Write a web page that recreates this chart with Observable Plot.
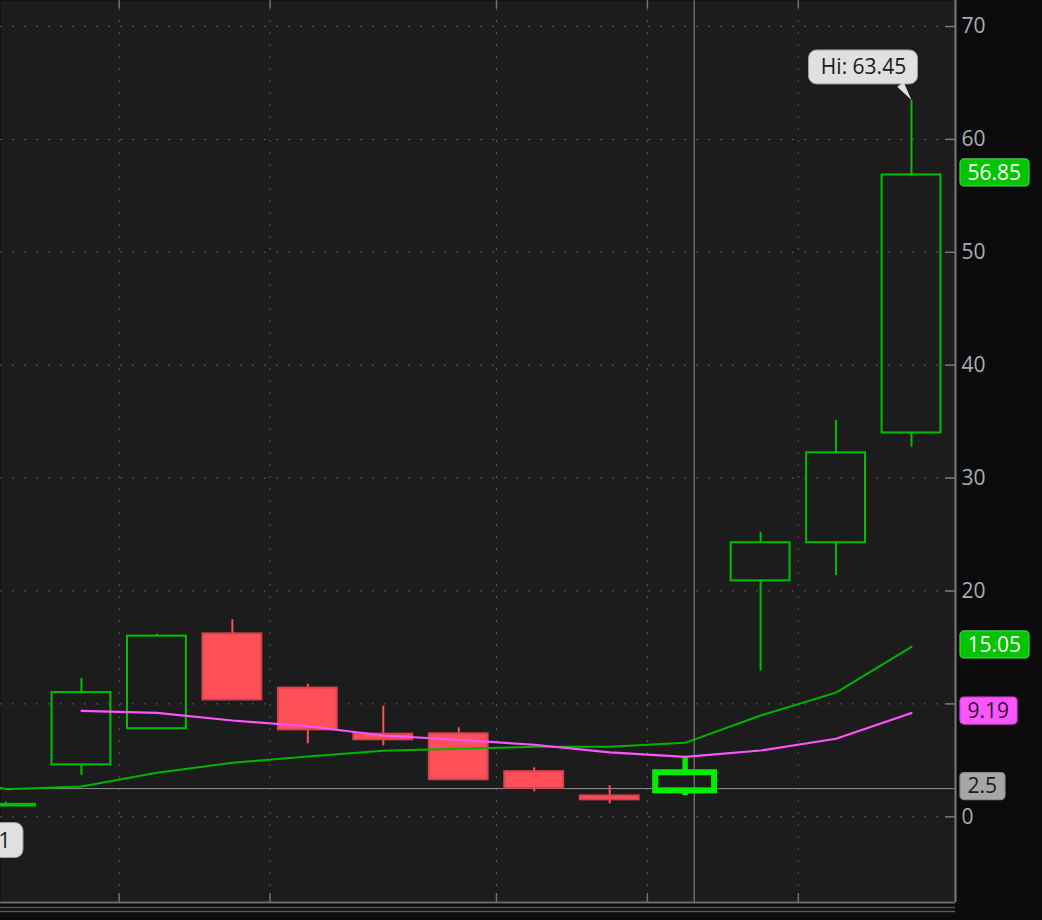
<!DOCTYPE html>
<html>
<head>
<meta charset="utf-8">
<script src="https://cdn.jsdelivr.net/npm/d3@7"></script>
<script src="https://cdn.jsdelivr.net/npm/@observablehq/plot@0.6"></script>
<style>
  html, body { margin: 0; padding: 0; background: #0b0b0b; overflow: hidden; }
  #chart svg { display: block; }
</style>
</head>
<body>
<div id="chart"></div>
<script>
// ---- data ----
const candleIndex = [0, 1, 2, 3, 4, 5, 6, 7, 8, 9, 10, 11, 12];
const open  = [0.95, 4.6, 7.8, 16.2, 11.4, 7.32, 7.35, 4.0, 1.85, 2.3, 20.9, 24.27, 34.0];
const high  = [1.29, 12.25, 16.17, 17.45, 11.74, 9.8, 7.88, 4.34, 2.75, 5.2, 25.18, 35.1, 63.45];
const low   = [0.95, 3.66, 7.8, 10.35, 6.47, 6.29, 3.28, 2.21, 1.15, 1.86, 12.9, 21.37, 32.74];
const close = [1.1, 11.0, 16.0, 10.35, 7.7, 6.82, 3.28, 2.53, 1.5, 3.9, 24.27, 32.24, 56.85];
const highlightIndex = 9;

const maGreenIndex = [-1, 0, 1, 2, 3, 4, 5, 6, 7, 8, 9, 10, 11, 12];
const maGreen      = [3.9, 2.45, 2.68, 3.9, 4.78, 5.34, 5.85, 6.02, 6.2, 6.2, 6.55, 8.97, 11.0, 15.05];
const maMagentaIndex = [1, 2, 3, 4, 5, 6, 7, 8, 9, 10, 11, 12];
const maMagenta      = [9.39, 9.21, 8.53, 8.02, 7.2, 6.82, 6.38, 5.7, 5.31, 5.87, 6.91, 9.19];

const yTicks = [0, 10, 20, 30, 40, 50, 60, 70];
const yTickLabels = [0, 20, 30, 40, 50, 60, 70]; // "10" is hidden behind the 9.19 badge
const gridX = [1.5, 3.5, 6.5, 8.5, 10.5];
const crossX = [9.12];
const crossY = [2.5];

const badgeValues = [56.85, 15.05, 9.19, 2.5];
const badgeLabels = ["56.85", "15.05", "9.19", "2.5"];
const badgeFill   = ["#00c400", "#00c400", "#ff55ff", "#a6a6a6"];
const badgeEdge   = ["#3fd43f", "#3fd43f", "#e040e0", "#8a8a8a"];
const badgeText   = ["#ffffff", "#ffffff", "#1a1a1a", "#1a1a1a"];

const hiLabel = "Hi: 63.45";
const loLabel = "Lo: 0.81";

// ---- tables ----
const candles = candleIndex.map((i, k) => ({i, o: open[k], h: high[k], l: low[k], c: close[k]}));
const normal = candles.filter(d => d.i !== highlightIndex);
const hot = candles.filter(d => d.i === highlightIndex);
const maG = maGreenIndex.map((i, k) => ({i, v: maGreen[k]}));
const maM = maMagentaIndex.map((i, k) => ({i, v: maMagenta[k]}));
const badges = badgeValues.map((v, k) => ({v, label: badgeLabels[k], fg: badgeText[k], bg: badgeFill[k], edge: badgeEdge[k]}));
const hiCandle = candles.filter(d => d.h === d3.max(high));
const loCandle = candles.slice(0, 1);

const GREEN = "#00bf00", RED = "#ff4f59", RED_EDGE = "#d8434d", HOT = "#00ee00";
const up = d => d.c >= d.o;
const wickColor = d => up(d) ? GREEN : RED;
const HALF = 0.39;
const SW = 2;

const xDomain = [-0.0729, 12.583];
const yDomain = [-7.591, 72.303];
const FONT = "'Open Sans', 'DejaVu Sans', sans-serif";

const ctx = document.createElement("canvas").getContext("2d");
ctx.font = `21px ${FONT}`;
const textWidth = s => ctx.measureText(s).width;

const badgeMarks = badges.flatMap(b => {
  const w = Math.round(textWidth(b.label)) + 15;
  return [
    Plot.rect([b], {y1: "v", y2: "v", insetTop: -13.5, insetBottom: -13.5, dy: -2,
      insetLeft: 960, insetRight: -(w + 5), rx: 4, fill: b.bg, stroke: b.edge, strokeWidth: 1.2}),
    Plot.text([b], {y: "v", text: "label", frameAnchor: "right", textAnchor: "start", dx: 12, dy: -2,
      fill: b.fg, fontSize: 21, fontFamily: FONT})
  ];
});

const hiW = Math.round(textWidth(hiLabel)) + 24;
const loW = Math.round(textWidth(loLabel)) + 26;

const chart = Plot.plot({
  width: 1042,
  height: 920,
  marginLeft: 0,
  marginRight: 87,
  marginTop: 0,
  marginBottom: 18,
  style: {background: "#0b0b0b", fontFamily: FONT, fontSize: "21px", color: "#a9a9a9"},
  x: {type: "linear", domain: xDomain, axis: null},
  y: {type: "linear", domain: yDomain, axis: null},
  marks: [
    Plot.frame({fill: "#1c1c1c"}),
    // grid
    Plot.ruleY(yTicks, {stroke: "#5c5c5c", strokeDasharray: "2,10"}),
    Plot.ruleX(gridX, {stroke: "#5c5c5c", strokeDasharray: "2,10", strokeDashoffset: 4}),
    Plot.ruleX(gridX, {stroke: "#707070", strokeWidth: 1.5, insetTop: 893}),
    Plot.ruleX(gridX, {stroke: "#707070", strokeWidth: 1.5, insetBottom: 894}),
    // crosshair
    Plot.ruleX(crossX, {stroke: "#8e8e8e"}),
    Plot.ruleY(crossY, {stroke: "#8e8e8e"}),
    // candles
    Plot.ruleX(normal, {x: "i", y1: d => Math.max(d.o, d.c), y2: "h", stroke: wickColor, strokeWidth: SW, clip: true}),
    Plot.ruleX(normal, {x: "i", y1: "l", y2: d => Math.min(d.o, d.c), stroke: wickColor, strokeWidth: SW, clip: true}),
    Plot.rect(normal, {x1: d => d.i - HALF, x2: d => d.i + HALF, y1: "o", y2: "c",
      fill: d => up(d) ? "none" : RED, stroke: d => up(d) ? GREEN : RED_EDGE, strokeWidth: SW, clip: true}),
    Plot.ruleX(hot, {x: "i", y1: d => Math.max(d.o, d.c), y2: "h", stroke: HOT, strokeWidth: 5.5}),
    Plot.ruleX(hot, {x: "i", y1: "l", y2: d => Math.min(d.o, d.c), stroke: HOT, strokeWidth: 5.5}),
    Plot.rect(hot, {x1: d => d.i - HALF, x2: d => d.i + HALF, y1: "o", y2: "c", fill: "none", stroke: HOT, strokeWidth: 6}),
    // moving averages
    Plot.line(maG, {x: "i", y: "v", stroke: "#00b400", strokeWidth: 2, clip: true}),
    Plot.line(maM, {x: "i", y: "v", stroke: "#ff55ff", strokeWidth: 2.2, clip: true}),
    // borders
    Plot.ruleX([xDomain[1]], {stroke: "#7a7a7a", strokeWidth: 2}),
    Plot.ruleY([yDomain[0]], {stroke: "#6a6a6a", strokeWidth: 2}),
    Plot.ruleY([yDomain[0]], {stroke: "#555555", strokeWidth: 1.5, dy: 5}),
    Plot.ruleY([yDomain[0]], {stroke: "#5a5a5a", strokeWidth: 1.5, dy: 9}),
    // y axis ticks and labels
    Plot.ruleY(yTicks, {stroke: "#7a7a7a", strokeWidth: 1.5, insetLeft: 945}),
    Plot.text(yTickLabels, {y: d => d, text: d => String(d), frameAnchor: "right", textAnchor: "start",
      dx: 6, fill: "#a9adb2", fontSize: 21, fontFamily: FONT}),
    // price badges
    ...badgeMarks,
    // Hi bubble
    Plot.rect(hiCandle, {x1: "i", x2: "i", y1: "h", y2: "h",
      insetLeft: -hiW / 2, insetRight: -hiW / 2, insetTop: -17, insetBottom: -17, dx: -48, dy: -33,
      rx: 8, fill: "#e0e0e0", stroke: "#9c9c9c", strokeWidth: 1}),
    Plot.vector(hiCandle, {x: "i", y: "h", length: 19, rotate: 145, shape: "spike", r: 4, anchor: "start",
      dx: -11, dy: -16, fill: "#e0e0e0", stroke: "none"}),
    Plot.text(hiCandle, {x: "i", y: "h", text: () => hiLabel,
      dx: -48, dy: -33, textAnchor: "middle", fill: "#1a1a1a", fontSize: 21, fontFamily: FONT}),
    // Lo bubble (mostly off the left edge)
    Plot.rect(loCandle, {x1: "i", x2: "i", y1: "l", y2: "l",
      insetLeft: -(loW - 17.5), insetRight: -17.5, insetTop: -17.5, insetBottom: -17.5, dy: 34.5,
      rx: 8, fill: "#e0e0e0", stroke: "#9c9c9c", strokeWidth: 1}),
    Plot.text(loCandle, {x: "i", y: "l", text: () => loLabel,
      dx: 4.5, dy: 35, textAnchor: "end", fill: "#1a1a1a", fontSize: 21, fontFamily: FONT})
  ]
});

document.getElementById("chart").append(chart);
</script>
</body>
</html>
